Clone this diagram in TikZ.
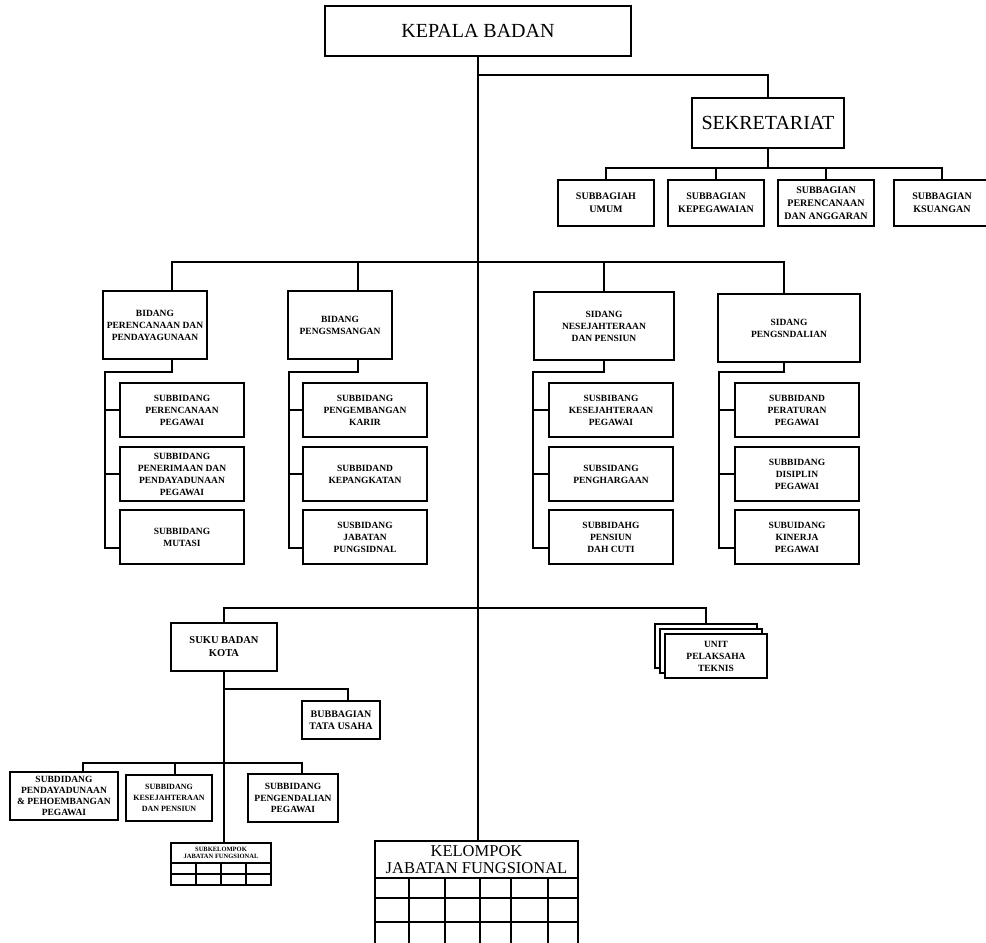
\documentclass[tikz,border=0pt]{standalone}
\usepackage{fontspec}
\setmainfont{Liberation Serif}

\tikzset{
  box/.style={draw, line width=2pt, fill=white, align=center, inner sep=1pt,
    font=\fontsize{9.5}{12}\selectfont\bfseries},
  big/.style={font=\fontsize{20}{22}\selectfont},
  sub/.style={minimum width=124pt, minimum height=54pt},
  link/.style={line width=2pt},
}

\begin{document}
\begin{tikzpicture}[x=1pt,y=-1pt]
\useasboundingbox (0,0) rectangle (986,943);

\def\subcol(#1,#2,#3,#4,#5,#6){
  \node[box,sub] (#1a) at (#3,410) {#4};
  \node[box,sub] (#1b) at (#3,474) {#5};
  \node[box,sub] (#1c) at (#3,537) {#6};
  \coordinate (#1s) at (#2,372);
  \draw[link] (#1d |- #1.south) |- (#1s) |- (#1a.west);
  \draw[link] (#1s) |- (#1b.west);
  \draw[link] (#1s) |- ([yshift=-11pt]#1c.west);
}

% top
\node[box,big,minimum width=306pt,minimum height=50pt] (kepala) at (478,31) {KEPALA BADAN};
\node[box,big,minimum width=152pt,minimum height=50pt] (sekr) at (768,123) {SEKRETARIAT};

\node[box,minimum width=96pt,minimum height=46pt,font=\fontsize{10}{13}\selectfont\bfseries] (sb1) at (606,203) {SUBBAGIAH\\UMUM};
\node[box,minimum width=96pt,minimum height=46pt,font=\fontsize{10}{13}\selectfont\bfseries] (sb2) at (716,203) {SUBBAGIAN\\KEPEGAWAIAN};
\node[box,minimum width=96pt,minimum height=46pt,font=\fontsize{10}{13}\selectfont\bfseries] (sb3) at (826,203) {SUBBAGIAN\\PERENCANAAN\\DAN ANGGARAN};
\node[box,minimum width=96pt,minimum height=46pt,font=\fontsize{10}{13}\selectfont\bfseries] (sb4) at (942,203) {SUBBAGIAN\\KSUANGAN};

% bidang
\node[box,minimum width=104pt,minimum height=68pt] (b1) at (155,325) {BIDANG\\PERENCANAAN DAN\\PENDAYAGUNAAN};
\node[box,minimum width=104pt,minimum height=68pt] (b2) at (340,325) {BIDANG\\PENGSMSANGAN};
\node[box,minimum width=140pt,minimum height=68pt] (b3) at (604,326) {SIDANG\\NESEJAHTERAAN\\DAN PENSIUN};
\node[box,minimum width=142pt,minimum height=68pt] (b4) at (789,328) {SIDANG\\PENGSNDALIAN};

\coordinate (b1d) at ([xshift=17pt]b1.north);
\coordinate (b2d) at ([xshift=18pt]b2.north);
\coordinate (b3d) at (b3.north);
\coordinate (b4d) at ([xshift=-5pt]b4.north);

\subcol(b1,105,182,{SUBBIDANG\\PERENCANAAN\\PEGAWAI},{SUBBIDANG\\PENERIMAAN DAN\\PENDAYADUNAAN\\PEGAWAI},{SUBBIDANG\\MUTASI})
\subcol(b2,289,365,{SUBBIDANG\\PENGEMBANGAN\\KARIR},{SUBBIDAND\\KEPANGKATAN},{SUSBIDANG\\JABATAN\\PUNGSIDNAL})
\subcol(b3,533,611,{SUSBIBANG\\KESEJAHTERAAN\\PEGAWAI},{SUBSIDANG\\PENGHARGAAN},{SUBBIDAHG\\PENSIUN\\DAH CUTI})
\subcol(b4,719,797,{SUBBIDAND\\PERATURAN\\PEGAWAI},{SUBBIDANG\\DISIPLIN\\PEGAWAI},{SUBUIDANG\\KINERJA\\PEGAWAI})

% lower part
\node[box,minimum width=106pt,minimum height=48pt,font=\fontsize{10.5}{13}\selectfont\bfseries] (suku) at (224,647) {SUKU BADAN\\KOTA};
\node[box,minimum width=78pt,minimum height=38pt,font=\fontsize{10}{12}\selectfont\bfseries] (tata) at (341,720) {BUBBAGIAN\\TATA USAHA};

\node[box,minimum width=102pt,minimum height=44pt] (upt2) at (706,646) {};
\node[box,minimum width=102pt,minimum height=44pt] (upt1) at (711,651) {};
\node[box,minimum width=102pt,minimum height=44pt,font=\fontsize{9.5}{12}\selectfont\bfseries] (upt) at (716,656) {UNIT\\PELAKSAHA\\TEKNIS};

\node[box,minimum width=108pt,minimum height=48pt,font=\fontsize{9.5}{11}\selectfont\bfseries] (ls1) at (64,796) {SUBDIDANG\\PENDAYADUNAAN\\\& PEHOEMBANGAN\\PEGAWAI};
\node[box,minimum width=86pt,minimum height=46pt,font=\fontsize{8}{11}\selectfont\bfseries] (ls2) at (169,798) {SUBBIDANG\\KESEJAHTERAAN\\DAN PENSIUN};
\node[box,minimum width=90pt,minimum height=48pt,font=\fontsize{9.5}{11.5}\selectfont\bfseries] (ls3) at (293,798) {SUBBIDANG\\PENGENDALIAN\\PEGAWAI};

\node[box,minimum width=100pt,minimum height=20pt,inner sep=0pt,font=\fontsize{6.5}{7.5}\selectfont\bfseries] (skf) at (221,853) {SUBKELOMPOK\\JABATAN FUNGSIONAL};
\node[box,minimum width=203pt,minimum height=37pt,inner sep=0pt,font=\fontsize{16.5}{17}\selectfont] (kjf) at (476.5,859.5) {KELOMPOK\\JABATAN FUNGSIONAL};

% connectors
\coordinate (sbus) at (0,75);
\coordinate (sbbus) at (0,168);
\coordinate (bbus) at (0,262);
\coordinate (lbus) at (0,608);
\coordinate (tbus) at (0,689);
\coordinate (lsbus) at (0,763);

\draw[link] (kepala.south) -- (kepala.south |- kjf.north);
\draw[link] (kepala.south |- sbus) -| (sekr.north);
\draw[link] (sekr.south) -- (sekr.south |- sbbus);
\draw[link] (sb1.north) |- (sb4.north |- sbbus) -- (sb4.north);
\draw[link] (sb2.north) -- (sb2.north |- sbbus);
\draw[link] (sb3.north) -- (sb3.north |- sbbus);

\draw[link] (b1d) |- (b4d |- bbus) -- (b4d);
\draw[link] (b2d) -- (b2d |- bbus);
\draw[link] (b3d) -- (b3d |- bbus);

\draw[link] (suku.north) |- (upt2.north |- lbus) -- (upt2.north);
\draw[link] (suku.south) -- (suku.south |- skf.north);
\draw[link] (suku.south |- tbus) -| ([xshift=7pt]tata.north);

\coordinate (l1) at ([xshift=19pt]ls1.north);
\coordinate (l2) at ([xshift=6pt]ls2.north);
\coordinate (l3) at ([xshift=9pt]ls3.north);
\draw[link] (l1) |- (l3 |- lsbus) -- (l3);
\draw[link] (l2) -- (l2 |- lsbus);

% grids
\draw[link] (171,863) rectangle (271,885);
\draw[link] (171,874) -- (271,874);
\foreach \x in {196,221,246} \draw[link] (\x,863) -- (\x,885);

\foreach \x in {375,409,445,480,511,548,578} \draw[link] (\x,878) -- (\x,950);
\foreach \y in {898,922} \draw[link] (375,\y) -- (578,\y);

\end{tikzpicture}
\end{document}
